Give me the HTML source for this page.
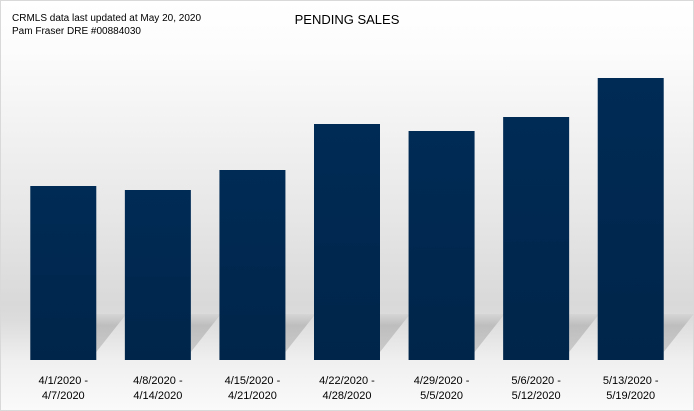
<!DOCTYPE html>
<html><head><meta charset="utf-8"><style>
html,body{margin:0;padding:0;background:#fff}
#wrap{position:relative;width:694px;height:411px;overflow:hidden;font-family:"Liberation Sans",sans-serif}
</style></head><body>
<div id="wrap">
<svg id="chart" width="694" height="411" xmlns="http://www.w3.org/2000/svg">
<defs>
<linearGradient id="bg" x1="0" y1="0" x2="0" y2="1">
<stop offset="0" stop-color="#ffffff"/>
<stop offset="0.12" stop-color="#fcfcfc"/>
<stop offset="0.5" stop-color="#e8e8e8"/>
<stop offset="0.74" stop-color="#d9d9d9"/>
<stop offset="0.78" stop-color="#dcdcdc"/>
<stop offset="0.88" stop-color="#f0f0f0"/>
<stop offset="1" stop-color="#fafafa"/>
</linearGradient>
<linearGradient id="sh" x1="0" y1="0" x2="0" y2="1">
<stop offset="0" stop-color="#d4d4d4"/>
<stop offset="0.3" stop-color="#b8b8b8"/>
<stop offset="1" stop-color="#c4c4c4"/>
</linearGradient>
<linearGradient id="bar" x1="0" y1="0" x2="0" y2="1">
<stop offset="0" stop-color="#002b55"/>
<stop offset="1" stop-color="#00254a"/>
</linearGradient>
</defs>
<rect x="0.5" y="0.5" width="693" height="410" fill="url(#bg)" stroke="#d9d9d9"/>
<g id="shadows"></g>
<g id="bars"></g>
<g id="labels"></g>
<text x="12" y="21" font-size="10" fill="#000">CRMLS data last updated at May 20, 2020</text>
<text x="12" y="34" font-size="10" fill="#000">Pam Fraser DRE #00884030</text>
<text x="347" y="24" font-size="13" text-anchor="middle" fill="#000">PENDING SALES</text>
</svg>
</div>
<script>
const categoriesStart = ["4/1/2020 -","4/8/2020 -","4/15/2020 -","4/22/2020 -","4/29/2020 -","5/6/2020 -","5/13/2020 -"];
const categoriesEnd = ["4/7/2020","4/14/2020","4/21/2020","4/28/2020","5/5/2020","5/12/2020","5/19/2020"];
const pendingSales = [174,170,190,236,229,243,282];
const yMax = 300;

const plotLeft=16, plotRight=678, baseY=360, plotH=300;
const band=(plotRight-plotLeft)/categoriesStart.length;
const barW=66;
function xScale(i){return plotLeft+band*i+(band-barW)/2;}
function yScale(v){return baseY-v/yMax*plotH;}
const NS="http://www.w3.org/2000/svg";
const gb=document.getElementById('bars'), gl=document.getElementById('labels'), gs=document.getElementById('shadows');
pendingSales.forEach((v,i)=>{
  const x=xScale(i), y=yScale(v);
  const s=document.createElementNS(NS,'polygon');
  s.setAttribute('points',`${x+barW},${baseY-46} ${x+barW+30},${baseY-46} ${x+barW},${baseY-8}`);
  s.setAttribute('fill','url(#sh)');
  s.setAttribute('opacity','0.85');
  
  
  gs.appendChild(s);
  const r=document.createElementNS(NS,'rect');
  r.setAttribute('x',x);r.setAttribute('y',y);r.setAttribute('width',barW);r.setAttribute('height',baseY-y);
  r.setAttribute('fill','url(#bar)');
  
  
  gb.appendChild(r);
  const t=document.createElementNS(NS,'text');
  t.setAttribute('x',x+barW/2);t.setAttribute('y',384);t.setAttribute('text-anchor','middle');t.setAttribute('font-size','11');
  t.textContent=categoriesStart[i];
  
  
  gl.appendChild(t);
  const t2=document.createElementNS(NS,'text');
  t2.setAttribute('x',x+barW/2);t2.setAttribute('y',399);t2.setAttribute('text-anchor','middle');t2.setAttribute('font-size','11');
  t2.textContent=categoriesEnd[i];
  
  
  gl.appendChild(t2);
});
</script>
</body></html>
